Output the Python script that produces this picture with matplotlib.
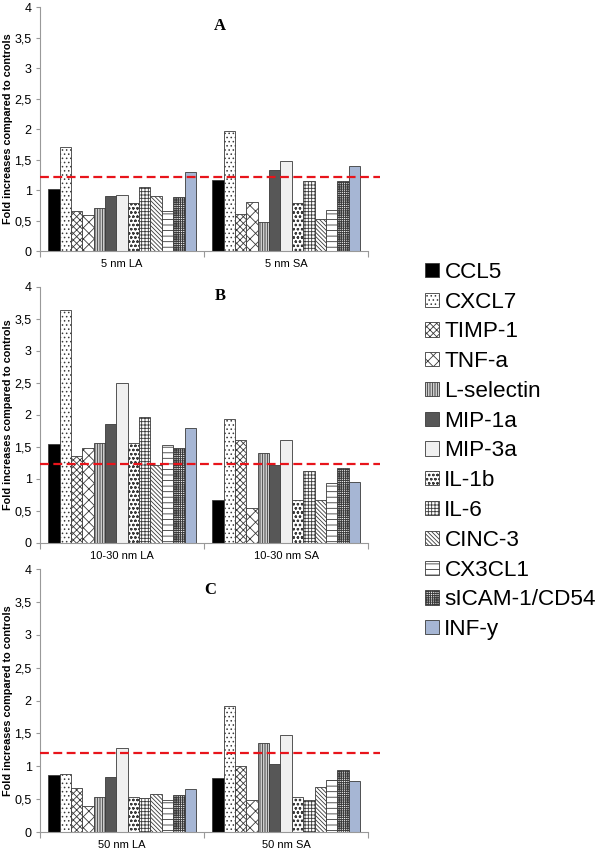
import numpy as np
import matplotlib as mpl
mpl.use('Agg')
import matplotlib.pyplot as plt

mpl.rcParams['font.family'] = 'Liberation Sans'
mpl.rcParams['hatch.linewidth'] = 0.6

markers = ['CCL5', 'CXCL7', 'TIMP-1', 'TNF-a', 'L-selectin', 'MIP-1a', 'MIP-3a',
           'IL-1b', 'IL-6', 'CINC-3', 'CX3CL1', 'sICAM-1/CD54', 'INF-y']

# panel A
groups_a = ['5 nm LA', '5 nm SA']
la_5 = [1.01, 1.71, 0.65, 0.59, 0.70, 0.91, 0.92, 0.79, 1.05, 0.91, 0.66, 0.89, 1.30]
sa_5 = [1.17, 1.97, 0.61, 0.80, 0.47, 1.33, 1.48, 0.78, 1.15, 0.53, 0.67, 1.15, 1.40]
# panel B
groups_b = ['10-30 nm LA', '10-30 nm SA']
la_1030 = [1.55, 3.64, 1.35, 1.49, 1.56, 1.86, 2.50, 1.56, 1.96, 1.21, 1.53, 1.49, 1.80]
sa_1030 = [0.67, 1.93, 1.60, 0.55, 1.40, 1.21, 1.60, 0.67, 1.13, 0.67, 0.94, 1.17, 0.95]
# panel C
groups_c = ['50 nm LA', '50 nm SA']
la_50 = [0.87, 0.89, 0.67, 0.40, 0.54, 0.84, 1.28, 0.54, 0.51, 0.58, 0.48, 0.57, 0.65]
sa_50 = [0.82, 1.92, 1.01, 0.49, 1.36, 1.03, 1.48, 0.53, 0.49, 0.69, 0.79, 0.94, 0.77]

thresholds = [1.21, 1.23, 1.20]

# style per marker (fill, hatch)
styles = [('black', None), ('white', '.' * 4), ('white', 'x' * 5), ('white', 'x' * 3),
          ('white', '|' * 10), ('#575757', None), ('#f0f0f0', None),
          ('white', 'o' * 4), ('white', '+' * 5), ('white', '\\' * 8),
          ('white', '-' * 3), ('white', '+' * 9), ('#a6b6d4', None)]

fig = plt.figure(figsize=(6, 8.51), dpi=100)
rects = [(0.0667, 0.705, 0.547, 0.2867),
         (0.0667, 0.362, 0.547, 0.301),
         (0.0667, 0.0223, 0.547, 0.309)]
panels = [(groups_a, la_5, sa_5, 'A', 0.549, 0.922),
          (groups_b, la_1030, sa_1030, 'B', 0.549, 0.965),
          (groups_c, la_50, sa_50, 'C', 0.518, 0.92)]

n = len(markers)
w = 0.9 / n
handles = []
for k, (rect, (groups, la, sa, letter, lx, ly)) in enumerate(zip(rects, panels)):
    ax = fig.add_axes(rect)
    vals = np.array([la, sa])
    for i in range(n):
        fc, h = styles[i]
        xs = np.arange(2) + 0.05 + w * (i + 0.5)
        b = ax.bar(xs, vals[:, i], width=w, color=fc, hatch=h,
                   edgecolor='#3a3a3a', linewidth=0.6, label=markers[i])
        if k == 0:
            handles.append(b)
    ax.plot([0, 2.07], [thresholds[k]] * 2, color='#e8141b', linestyle='--',
            linewidth=1.6, dashes=(4, 2), clip_on=False, zorder=5)
    ax.set_xlim(0, 2)
    ax.set_ylim(0, 4)
    ax.set_yticks(np.arange(0, 4.01, 0.5))
    ax.set_yticklabels(['0', '0,5', '1', '1,5', '2', '2,5', '3', '3,5', '4'], fontsize=9)
    ax.set_xticks([0, 1, 2])
    ax.set_xticklabels([])
    ax.set_xticks([0.5, 1.5], minor=True)
    ax.set_xticklabels(groups, minor=True, fontsize=8)
    ax.tick_params(axis='x', which='minor', length=0, pad=6)
    ax.tick_params(axis='x', which='major', length=4, color='#999999')
    ax.tick_params(axis='y', length=3, color='#999999', pad=3)
    for s in ['top', 'right']:
        ax.spines[s].set_visible(False)
    for s in ['left', 'bottom']:
        ax.spines[s].set_color('#999999')
    ax.set_ylabel('Fold increases compared to controls', fontsize=7.8, fontweight='bold',
                  va='center')
    ax.yaxis.set_label_coords(-0.097, 0.5)
    ax.text(lx, ly, letter, transform=ax.transAxes, ha='center', va='center',
            fontsize=12, fontweight='bold', family='Liberation Serif')

fig.legend(handles=handles, labels=markers, loc='center left',
           bbox_to_anchor=(0.675, (851 - 451) / 851), frameon=False,
           fontsize=16.2, handlelength=0.6, handleheight=0.6,
           handletextpad=0.25, labelspacing=0.39)

fig.savefig('out.png', dpi=100)
